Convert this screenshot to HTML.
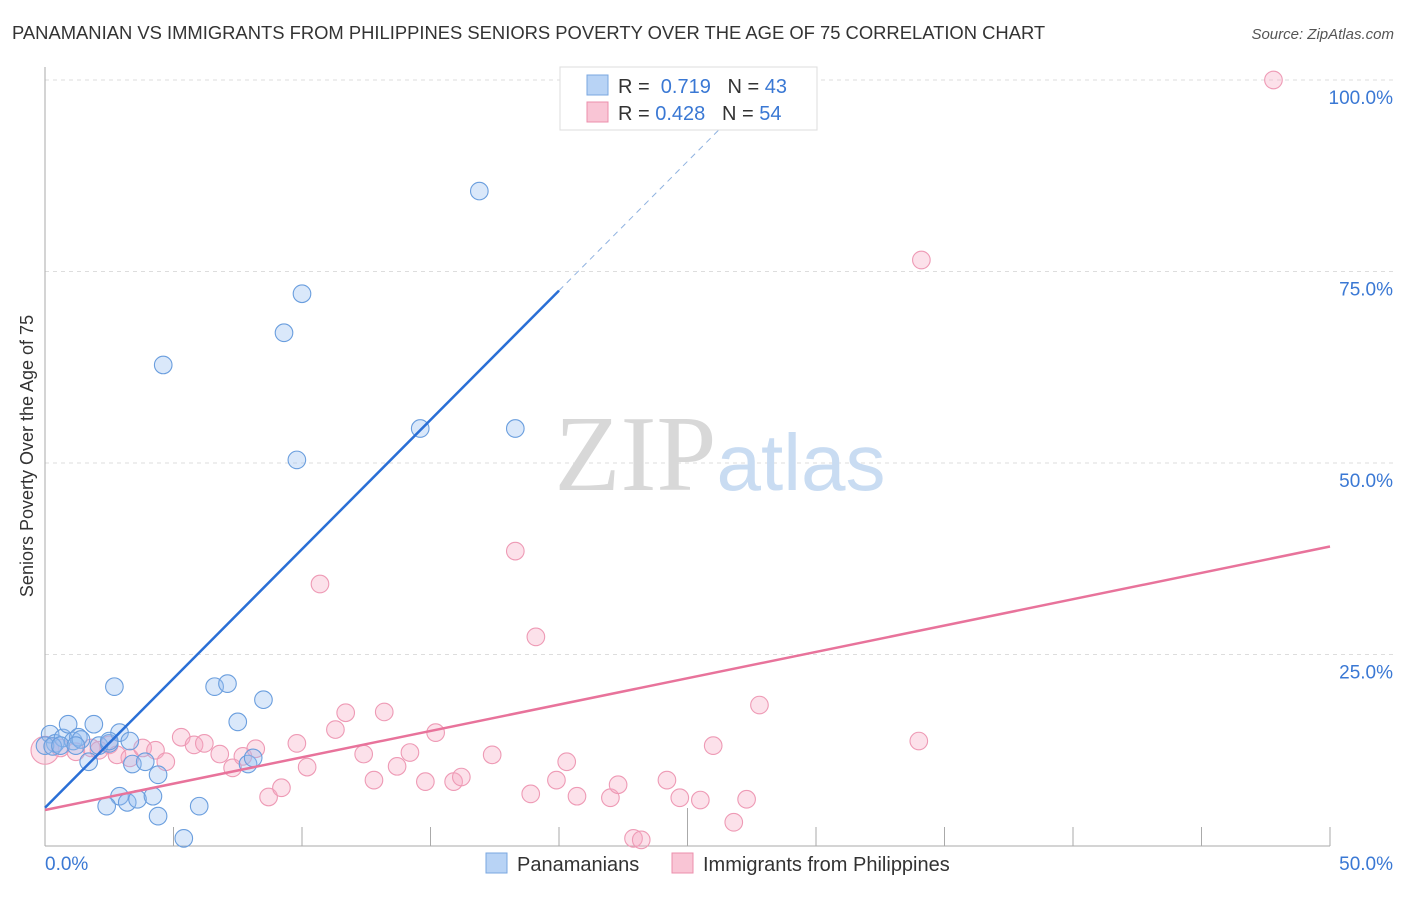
<!DOCTYPE html>
<html><head><meta charset="utf-8"><style>
body{margin:0;background:#fff;font-family:"Liberation Sans",sans-serif;}
svg text{font-family:"Liberation Sans",sans-serif;}
</style></head><body>
<svg width="1406" height="892" viewBox="0 0 1406 892" xmlns="http://www.w3.org/2000/svg">
<text x="12" y="39" font-size="18.4" fill="#333">PANAMANIAN VS IMMIGRANTS FROM PHILIPPINES SENIORS POVERTY OVER THE AGE OF 75 CORRELATION CHART</text>
<text x="1394" y="39" font-size="15" fill="#555" text-anchor="end" font-style="italic">Source: ZipAtlas.com</text>
<g id="grid"></g>
<text x="720" y="490" font-size="108" text-anchor="middle"><tspan fill="#d8d8d8" font-family="Liberation Serif">ZIP</tspan><tspan fill="#c9dcf2" font-size="80">atlas</tspan></text>
<text transform="translate(33,456) rotate(-90)" font-size="18" fill="#333" text-anchor="middle">Seniors Poverty Over the Age of 75</text>
<g id="marks"></g>
<g>
<rect x="560" y="67" width="257" height="63" fill="#fff" stroke="#ddd"/>
<rect x="587" y="75" width="21" height="20" fill="#b8d3f5" stroke="#7aa7e0"/>
<rect x="587" y="102" width="21" height="20" fill="#f9c5d5" stroke="#ec8fac"/>
<text x="618" y="93" font-size="20" fill="#333">R = <tspan fill="#3a78d4">&#160;0.719</tspan>&#160;&#160;&#160;N = <tspan fill="#3a78d4">43</tspan></text>
<text x="618" y="120" font-size="20" fill="#333">R = <tspan fill="#3a78d4">0.428</tspan>&#160;&#160;&#160;N = <tspan fill="#3a78d4">54</tspan></text>
</g>
<g>
<rect x="486" y="853" width="21" height="20" fill="#b8d3f5" stroke="#7aa7e0"/>
<text x="517" y="871" font-size="20" fill="#333">Panamanians</text>
<rect x="672" y="853" width="21" height="20" fill="#f9c5d5" stroke="#ec8fac"/>
<text x="703" y="871" font-size="20" fill="#333">Immigrants from Philippines</text>
</g>
</svg>
<script>
const xTicks=[0,5,10,15,20,25,30,35,40,45,50];
const yTicks=[25,50,75,100];
const yTickLabels=["25.0%","50.0%","75.0%","100.0%"];
const blueX=[0.2,0.4,0.7,0.9,1.1,1.3,1.4,1.7,1.9,2.1,2.5,2.7,2.9,2.9,3.2,2.4,3.3,3.4,3.6,3.9,4.2,4.4,4.4,4.6,5.4,6.0,6.6,7.1,7.5,7.9,8.1,8.5,9.3,9.8,10.0,14.6,16.9,18.3,0.0,0.3,0.6,1.2,2.5];
const blueY=[14.6,13.4,14.1,15.9,13.7,14.2,13.9,11.0,15.9,13.1,13.4,20.8,14.8,6.5,5.7,5.2,13.7,10.7,6.1,11.0,6.5,9.3,3.9,62.8,1.0,5.2,20.8,21.2,16.2,10.7,11.5,19.1,67.0,50.4,72.1,54.5,85.5,54.5,13.1,13.0,13.1,13.1,13.7];
const pinkX=[0.0,0.6,1.2,1.8,2.1,2.5,2.8,3.3,3.8,4.3,4.7,5.3,5.8,6.2,6.8,7.3,7.7,8.2,8.7,9.2,9.8,10.2,10.7,11.3,11.7,12.4,12.8,13.2,13.7,14.2,14.8,15.2,15.9,16.2,17.4,18.3,18.9,19.1,19.9,20.3,20.7,22.0,22.3,22.9,23.2,24.2,24.7,25.5,26.0,26.8,27.3,27.8,34.0,34.1,47.8];
const pinkY=[12.5,12.8,12.3,12.8,12.5,13.2,11.9,11.5,12.8,12.5,11.0,14.2,13.2,13.4,12.0,10.2,11.7,12.7,6.4,7.6,13.4,10.3,34.2,15.2,17.4,12.0,8.6,17.5,10.4,12.2,8.4,14.8,8.4,9.0,11.9,38.5,6.8,27.3,8.6,11.0,6.5,6.3,8.0,1.0,0.8,8.6,6.3,6.0,13.1,3.1,6.1,18.4,13.7,76.5,100.0];
const blueLine=[0,5,20,72.5];
const pinkLine=[0,4.7,50,39.1];
const NS="http://www.w3.org/2000/svg";
const X=v=>45+v/50*1285, Y=v=>846-v/100*766;
function mk(t,a,p){const e=document.createElementNS(NS,t);for(const k in a)e.setAttribute(k,a[k]);p.appendChild(e);return e;}
const grid=document.getElementById('grid'),marks=document.getElementById('marks');
yTicks.forEach((t,i)=>{
 const l=mk('line',{x1:45,x2:1394,y1:Y(t),y2:Y(t),stroke:'#ddd','stroke-dasharray':'4,4'},grid);
 
 
 const tx=mk('text',{x:1393,y:Y(t)+24,'font-size':19,fill:'#3a78d4','text-anchor':'end'},grid);
 tx.textContent=yTickLabels[i];
 
 
});
const yAxisLine=mk('line',{x1:45,x2:45,y1:67,y2:846,stroke:'#aaa'},grid);


const xAxisLine=mk('line',{x1:45,x2:1330,y1:846,y2:846,stroke:'#aaa'},grid);


xTicks.forEach((t,i)=>{
 const l=mk('line',{x1:X(t),x2:X(t),y1:i==5?808:827,y2:846,stroke:'#aaa'},grid);
 
 
});
const xl0=mk('text',{x:45,y:870,'font-size':19,fill:'#3a78d4'},grid);xl0.textContent='0.0%';


const xl1=mk('text',{x:1393,y:870,'font-size':19,fill:'#3a78d4','text-anchor':'end'},grid);xl1.textContent='50.0%';


pinkX.forEach((v,i)=>{
 const c=mk('circle',{cx:X(v),cy:Y(pinkY[i]),r:i==0?14:8.8,fill:'rgba(246,170,195,0.35)',stroke:'#ee9ab5','stroke-width':1.1},marks);
 
 
});
blueX.forEach((v,i)=>{
 const c=mk('circle',{cx:X(v),cy:Y(blueY[i]),r:8.8,fill:'rgba(150,190,240,0.35)',stroke:'#6a9ede','stroke-width':1.1},marks);
 
 
});
const bs=(blueLine[3]-blueLine[1])/(blueLine[2]-blueLine[0]);
const bx100=(100-blueLine[1])/bs;
const bd=mk('line',{x1:X(blueLine[2]),y1:Y(blueLine[3]),x2:X(bx100*0.97),y2:Y(blueLine[1]+bs*bx100*0.97),stroke:'#8fb2e0','stroke-dasharray':'6,5'},marks);


const bl=mk('line',{x1:X(blueLine[0]),y1:Y(blueLine[1]),x2:X(blueLine[2]),y2:Y(blueLine[3]),stroke:'#2a6fd6','stroke-width':2.5},marks);


const pl=mk('line',{x1:X(pinkLine[0]),y1:Y(pinkLine[1]),x2:X(pinkLine[2]),y2:Y(pinkLine[3]),stroke:'#e8739b','stroke-width':2.5},marks);


</script>
</body></html>
